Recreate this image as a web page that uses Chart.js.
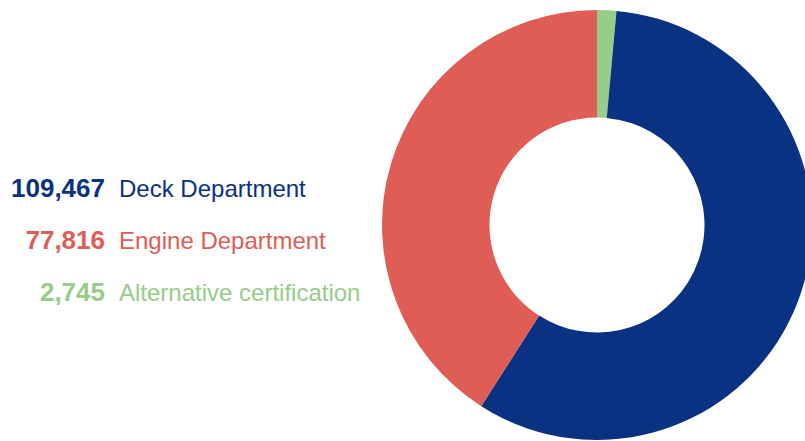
<!DOCTYPE html>
<html>
<head>
<meta charset="utf-8">
<script src="https://cdn.jsdelivr.net/npm/chart.js@4/dist/chart.umd.min.js"></script>
<style>
  html, body { margin:0; padding:0; background:#fff; }
  body { width:805px; height:441px; position:relative; overflow:hidden;
         font-family:"Liberation Sans", Arial, sans-serif; }
  #wrap { position:absolute; left:382px; top:10px; width:430px; height:430px; }
  #legend { position:absolute; left:0; top:0; }
  .row { position:absolute; left:0; width:400px; white-space:nowrap; }
  .num { position:absolute; right:295px; font-weight:bold; font-size:26px; }
  .lab { position:absolute; left:119px; font-size:24px; top:2px; }
</style>
</head>
<body>
<div id="legend"></div>
<div id="wrap"><canvas id="donut" width="430" height="430"></canvas></div>
<script>
/* data ------------------------------------------------------------ */
const labels = ['Deck Department', 'Engine Department', 'Alternative certification'];
const values = [109467, 77816, 2745];
const colors = ['#0a3282', '#e05d56', '#97cc89'];
const drawOrder = [2, 0, 1];          // clockwise from 12 o'clock

/* legend (numbers + labels) --------------------------------------- */
const legend = document.getElementById('legend');
const rowTops = [173, 225, 277];
labels.forEach((lab, i) => {
  const row = document.createElement('div');
  row.className = 'row';
  row.style.top = rowTops[i] + 'px';
  row.style.color = colors[i];
  row.innerHTML =
    `<span class="num">${values[i].toLocaleString('en-US')}</span>` +
    `<span class="lab">${lab}</span>`;
  legend.appendChild(row);
});

/* donut ----------------------------------------------------------- */
new Chart(document.getElementById('donut'), {
  type : 'doughnut',
  data : {
    labels   : drawOrder.map(i => labels[i]),
    datasets : [{
      data            : drawOrder.map(i => values[i]),
      backgroundColor : drawOrder.map(i => colors[i]),
      borderWidth     : 0
    }]
  },
  options : {
    responsive : false,
    animation  : false,
    cutout     : '50%',
    layout     : { padding: 0 },
    plugins    : { legend: { display: false }, tooltip: { enabled: false } }
  }
});
</script>
</body>
</html>
